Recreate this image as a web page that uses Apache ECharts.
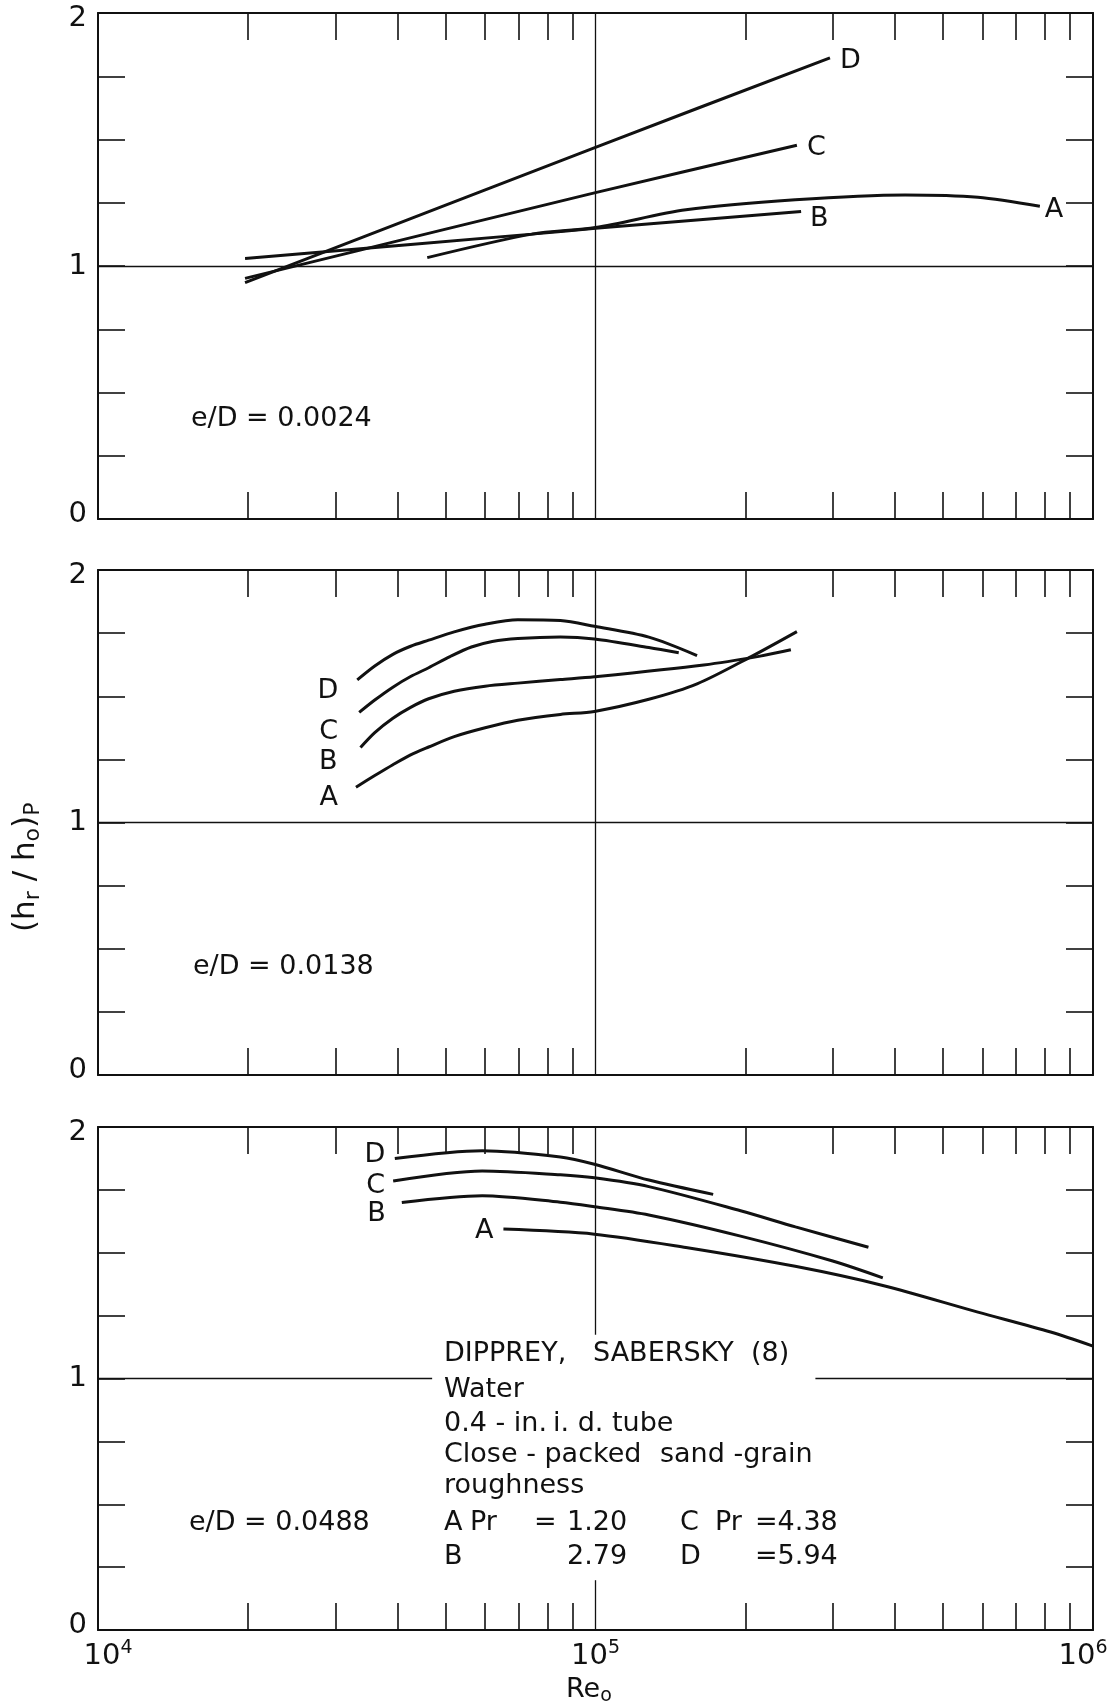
<!DOCTYPE html>
<html>
<head>
<meta charset="utf-8">
<script src="https://cdn.jsdelivr.net/npm/echarts@6/dist/echarts.min.js"></script>
<style>
  html, body { margin: 0; padding: 0; background: #fff; }
  #chart { width: 1112px; height: 1707px; }
</style>
</head>
<body>
<div id="chart"></div>
<script>
// ---- data -------------------------------------------------------------
// Reynolds-number axis (log scale) and its intermediate tick values
const reMin = 1e4;
const reMax = 1e6;
const reMinorTicks = [2e4, 3e4, 4e4, 5e4, 6e4, 7e4, 8e4, 9e4, 2e5, 3e5, 4e5, 5e5, 6e5, 7e5, 8e5, 9e5];
// ratio axis
const ratioMin = 0;
const ratioMax = 2;
const ratioStep = 0.25;
const ratioLabels = [0, 1, 2];

const roughnessLabels = ['e/D = 0.0024', 'e/D = 0.0138', 'e/D = 0.0488'];
const curveNames = ['A', 'B', 'C', 'D'];

// panel 1, e/D = 0.0024 : [Re_o, (hr/ho)_P]
const p1A = [[45900, 1.033], [74500, 1.126], [100000, 1.152], [152000, 1.222], [252000, 1.262], [419000, 1.281], [587000, 1.272], [782000, 1.236]];
const p1B = [[19750, 1.03], [74500, 1.126], [100000, 1.149], [259000, 1.215]];
const p1C = [[19750, 0.951], [100000, 1.29], [254000, 1.477]];
const p1D = [[19750, 0.934], [100000, 1.469], [296000, 1.823]];

// panel 2, e/D = 0.0138
const p2A = [[33000, 1.14], [36000, 1.186], [39150, 1.229], [42500, 1.268], [46200, 1.299], [52000, 1.34], [60000, 1.375], [69800, 1.405], [85000, 1.428], [99500, 1.44], [128000, 1.488], [160000, 1.549], [206000, 1.658], [254000, 1.756]];
const p2B = [[33700, 1.297], [36000, 1.356], [39150, 1.413], [42500, 1.456], [46200, 1.49], [52000, 1.52], [60000, 1.54], [69800, 1.552], [85000, 1.566], [99500, 1.577], [165000, 1.624], [213000, 1.658], [247000, 1.684]];
const p2C = [[33500, 1.436], [36000, 1.485], [39150, 1.536], [42500, 1.578], [46200, 1.613], [51000, 1.657], [56300, 1.695], [62000, 1.717], [69800, 1.729], [85000, 1.735], [99500, 1.727], [128000, 1.693], [147000, 1.672]];
const p2D = [[33200, 1.565], [36000, 1.62], [39150, 1.666], [42500, 1.698], [46200, 1.722], [52000, 1.755], [60000, 1.785], [69800, 1.803], [85000, 1.80], [99500, 1.777], [128000, 1.734], [160000, 1.661]];

// panel 3, e/D = 0.0488
const p3A = [[65300, 1.594], [99500, 1.574], [152000, 1.521], [252000, 1.446], [378000, 1.370], [587000, 1.264], [822000, 1.185], [1000000, 1.129]];
const p3B = [[40800, 1.700], [59200, 1.727], [85000, 1.701], [99500, 1.683], [128000, 1.650], [195700, 1.566], [298600, 1.468], [378000, 1.400]];
const p3C = [[39200, 1.785], [59200, 1.825], [85000, 1.810], [99500, 1.798], [128000, 1.763], [195700, 1.667], [252300, 1.603], [353700, 1.522]];
const p3D = [[39500, 1.875], [59200, 1.906], [85000, 1.881], [99500, 1.852], [128000, 1.789], [172400, 1.732]];

// guide lines (Re = 1e5 and ratio = 1) as segment end points
const guides1 = [[[1e4, 1], [1e6, 1]], [[1e5, 0], [1e5, 2]]];
const guides2 = [[[1e4, 1], [1e6, 1]], [[1e5, 0], [1e5, 2]]];
const guides3 = [[[1e4, 1], [46950, 1]], [[276700, 1], [1e6, 1]], [[1e5, 1.174], [1e5, 2]], [[1e5, 0], [1e5, 0.198]]];

// legend block of the lowest panel
const sourceLines = ['DIPPREY,', 'SABERSKY  (8)', 'Water', '0.4 - in.', 'i. d. tube', 'Close - packed', 'sand -grain', 'roughness'];
const prandtlKeys = ['A', 'B', 'C', 'D'];
const prandtlValues = ['1.20', '2.79', '4.38', '5.94'];

// ---- layout & style ---------------------------------------------------
const FONT = '"DejaVu Sans", sans-serif';
const INK = '#111';
const TXT = 27;

const panels = [
  { top: 13, height: 506, curves: [p1A, p1B, p1C, p1D], guides: guides1 },
  { top: 570, height: 505, curves: [p2A, p2B, p2C, p2D], guides: guides2 },
  { top: 1127, height: 503, curves: [p3A, p3B, p3C, p3D], guides: guides3 }
];

// where each curve letter sits relative to the curve end it names
const letterPlacement = [
  { at: 'end', pos: 'right', off: { A: [5, 3.5], B: [9, 7], C: [10, 2.5], D: [10, 3] } },
  { at: 'start', pos: 'left', off: { A: [18, 11], B: [23, 14], C: [21, 20], D: [19, 11] } },
  { at: 'start', pos: 'left', off: { A: [10, 1.5], B: [16, 12], C: [8, 5], D: [9.5, -3] } }
];

// ratio tick labels: bottom label sits above its line, top label below it
const ratioLabelRich = {
  lo: { fontFamily: FONT, fontSize: 29, color: INK, padding: [0, 0, 9, 0] },
  mid: { fontFamily: FONT, fontSize: 29, color: INK },
  hi: { fontFamily: FONT, fontSize: 29, color: INK, padding: [10, 0, 0, 0] }
};

const grid = [], xAxis = [], yAxis = [], series = [];

panels.forEach((p, i) => {
  grid.push({ left: 98, right: 19, top: p.top, height: p.height });
  const isLast = i === panels.length - 1;
  ['bottom', 'top'].forEach(position => {
    xAxis.push({
      gridIndex: i, type: 'log', logBase: 10, min: reMin, max: reMax, position,
      axisLine: { show: true, onZero: false, lineStyle: { color: INK, width: 2 } },
      axisTick: { show: true, inside: true, length: 27, customValues: reMinorTicks, lineStyle: { color: INK, width: 1.6 } },
      minorTick: { show: false },
      splitLine: { show: false },
      axisLabel: {
        show: isLast && position === 'bottom',
        margin: 9,
        color: INK,
        fontFamily: FONT,
        fontSize: 29,
        formatter: v => {
          const e = Math.round(Math.log10(v));
          const base = e === 4 ? 'bl' : 'b';
          const sup = e === 6 ? 'sr' : 's';
          return `{${base}|10}{${sup}|${e}}`;
        },
        rich: {
          b: { fontFamily: FONT, fontSize: 29, color: INK },
          bl: { fontFamily: FONT, fontSize: 29, color: INK, padding: [0, 0, 0, 20] },
          s: { fontFamily: FONT, fontSize: 19, color: INK, padding: [0, 0, 15, 0] },
          sr: { fontFamily: FONT, fontSize: 19, color: INK, padding: [0, 20, 15, 0] }
        }
      }
    });
  });
  ['left', 'right'].forEach(position => {
    yAxis.push({
      gridIndex: i, type: 'value', min: ratioMin, max: ratioMax, interval: ratioStep, position,
      axisLine: { show: true, onZero: false, lineStyle: { color: INK, width: 2 } },
      axisTick: { show: true, inside: true, length: 27, lineStyle: { color: INK, width: 1.6 } },
      splitLine: { show: false },
      axisLabel: {
        show: position === 'left',
        margin: 11,
        color: INK,
        fontFamily: FONT,
        fontSize: 29,
        formatter: v => {
          if (!ratioLabels.includes(v)) return '';
          const key = v === ratioMin ? 'lo' : v === ratioMax ? 'hi' : 'mid';
          return `{${key}|${v}}`;
        },
        rich: ratioLabelRich
      }
    });
  });

  const place = letterPlacement[i];
  p.curves.forEach((pts, k) => {
    const name = curveNames[k];
    const idx = place.at === 'end' ? pts.length - 1 : 0;
    const [d, dy] = place.off[name];
    const data = pts.map((pt, j) => j === idx ? {
      value: pt,
      label: {
        show: true, position: place.pos, distance: d, offset: [0, dy],
        formatter: name, color: INK, fontFamily: FONT, fontSize: TXT
      }
    } : pt);
    const s = {
      type: 'line', name: name + (i + 1),
      xAxisIndex: i * 2, yAxisIndex: i * 2,
      data, smooth: 0.3,
      symbol: 'circle', symbolSize: 0, showSymbol: true,
      lineStyle: { color: INK, width: 3 },
      itemStyle: { color: INK },
      label: { show: false },
      emphasis: { disabled: true },
      silent: true, animation: false
    };
    if (k === 0) {
      s.markLine = {
        silent: true, symbol: ['none', 'none'], animation: false,
        label: { show: false },
        lineStyle: { color: INK, width: 1.3, type: 'solid' },
        emphasis: { disabled: true },
        data: p.guides.map(seg => [{ coord: seg[0] }, { coord: seg[1] }])
      };
    }
    series.push(s);
  });
});

// free text
const textEl = (text, x, y, extra) => Object.assign({
  type: 'text', x, y, silent: true,
  style: { text, fill: INK, font: `${TXT}px ${FONT}`, align: 'left', verticalAlign: 'middle' }
}, extra || {});

const graphic = [
  textEl(roughnessLabels[0], 191, 419),
  textEl(roughnessLabels[1], 193, 967),
  textEl(roughnessLabels[2], 189, 1523),
  textEl(sourceLines[0], 444, 1354),
  textEl(sourceLines[1], 593, 1354),
  textEl(sourceLines[2], 444, 1390),
  textEl(sourceLines[3], 444, 1424),
  textEl(sourceLines[4], 553, 1424),
  textEl(sourceLines[5], 444, 1455),
  textEl(sourceLines[6], 660, 1455),
  textEl(sourceLines[7], 444, 1486),
  textEl(prandtlKeys[0], 444, 1523),
  textEl('Pr', 470, 1523),
  textEl('=', 534, 1523),
  textEl(prandtlValues[0], 567, 1523),
  textEl(prandtlKeys[2], 680, 1523),
  textEl('Pr', 715, 1523),
  textEl('=' + prandtlValues[2], 755, 1523),
  textEl(prandtlKeys[1], 444, 1557),
  textEl(prandtlValues[1], 567, 1557),
  textEl(prandtlKeys[3], 680, 1557),
  textEl('=' + prandtlValues[3], 755, 1557),
  // axis titles: the ratio title reads upward from its opening bracket
  {
    type: 'text', x: 26, y: 932, rotation: Math.PI / 2, silent: true,
    style: {
      text: '(h{s|r} / h{s|o}){s|P}', fill: INK, font: `31px ${FONT}`,
      align: 'left', verticalAlign: 'middle',
      rich: { s: { fontFamily: FONT, fontSize: 22, fill: INK, padding: [14, 0, 0, 0] } }
    }
  },
  {
    type: 'text', x: 566, y: 1690, silent: true,
    style: {
      text: 'Re{s|o}', fill: INK, font: `${TXT}px ${FONT}`,
      align: 'left', verticalAlign: 'middle',
      rich: { s: { fontFamily: FONT, fontSize: 19, fill: INK, padding: [13, 0, 0, 0] } }
    }
  }
];

const chart = echarts.init(document.getElementById('chart'), null, { renderer: 'canvas' });
chart.setOption({
  backgroundColor: '#fff',
  animation: false,
  textStyle: { fontFamily: FONT },
  grid, xAxis, yAxis, series, graphic
});
</script>
</body>
</html>
